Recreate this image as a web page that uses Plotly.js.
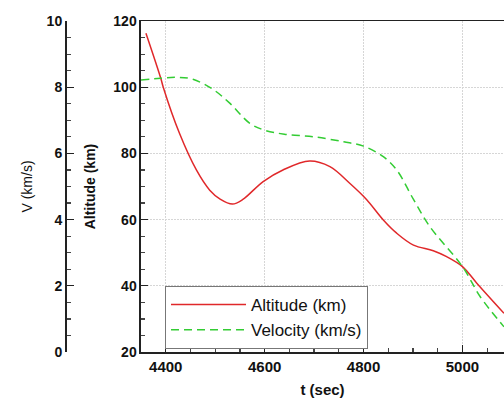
<!DOCTYPE html>
<html>
<head>
<meta charset="utf-8">
<script src="https://cdn.plot.ly/plotly-3.0.1.min.js"></script>
<style>
html,body{margin:0;padding:0;background:#fff;}
#chart{width:504px;height:398px;}
</style>
</head>
<body>
<div id="chart"></div>
<script>
// Time (sec) and altitude (km)
var altTime = [4360, 4390, 4395, 4428, 4462, 4489, 4510, 4535, 4556, 4597, 4637, 4691, 4732, 4772, 4806, 4840, 4867, 4901, 4941, 4968, 5000, 5029, 5084];
var altitude = [116.3, 102.7, 100.0, 86.0, 75.0, 68.9, 66.2, 64.7, 66.1, 71.5, 75.0, 77.7, 76.0, 71.0, 66.1, 59.9, 55.9, 52.3, 50.6, 48.8, 45.8, 40.8, 31.7];
// Time (sec) and velocity (km/s)
var velTime = [4350, 4390, 4422, 4455, 4496, 4530, 4570, 4600, 4640, 4700, 4760, 4800, 4840, 4867, 4901, 4934, 5000, 5036, 5084];
var velocity = [8.22, 8.27, 8.30, 8.24, 7.93, 7.51, 6.91, 6.70, 6.58, 6.50, 6.35, 6.22, 5.90, 5.50, 4.61, 3.79, 2.58, 1.67, 0.76];

var altTicks = [20, 40, 60, 80, 100, 120];
var velTicks = [0, 2, 4, 6, 8, 10];
var timeTicks = [4400, 4600, 4800, 5000];

var FONT = 'Liberation Sans, Arial, Helvetica, sans-serif';

var traces = [
  {x: altTime, y: altitude, name: 'Altitude (km)', type: 'scatter', mode: 'lines',
   line: {color: '#e0282a', width: 1.5, shape: 'spline', smoothing: 1.0}, yaxis: 'y'},
  {x: velTime, y: velocity, name: 'Velocity (km/s)', type: 'scatter', mode: 'lines',
   line: {color: '#33cc33', width: 1.5, dash: '8px,5px', shape: 'spline', smoothing: 1.0}, yaxis: 'y2'}
];

var layout = {
  width: 504, height: 398,
  margin: {l: 65, r: 0, t: 21, b: 46, pad: 0},
  paper_bgcolor: '#fff', plot_bgcolor: '#fff',
  font: {family: FONT, color: '#111', size: 14},
  showlegend: true,
  legend: {x: 0.2278, y: 0.1994, xanchor: 'left', yanchor: 'top',
           bgcolor: '#fff', bordercolor: '#777', borderwidth: 1,
           font: {family: FONT, size: 17, color: '#111'}, itemwidth: 75,
           tracegroupgap: 0},
  xaxis: {
    domain: [0.1731, 1], range: [4350, 5084],
    tickvals: timeTicks, ticktext: timeTicks.map(String),
    ticks: 'inside', ticklen: 7, tickwidth: 1.2, tickcolor: '#222',
    minor: {ticks: 'inside', dtick: 50, tick0: 4400, ticklen: 4, tickcolor: '#444', showgrid: false},
    showline: true, linecolor: '#222', linewidth: 1.5, mirror: true,
    showgrid: true, gridcolor: '#d6d6d6', griddash: '2px,1px', gridwidth: 1,
    zeroline: false,
    tickfont: {family: FONT, size: 15, color: '#111', weight: 'bold'},
    title: {text: 't (sec)', font: {family: FONT, size: 15, color: '#111', weight: 'bold'}, standoff: 12}
  },
  yaxis: {
    range: [20, 120], tickvals: altTicks, ticktext: altTicks.map(String),
    anchor: 'x',
    ticks: 'inside', ticklen: 7, tickwidth: 1.2, tickcolor: '#222',
    minor: {ticks: 'inside', dtick: 5, tick0: 20, ticklen: 4, tickcolor: '#444', showgrid: false},
    showline: true, linecolor: '#222', linewidth: 1.5,
    showgrid: true, gridcolor: '#d6d6d6', griddash: '2px,1px', gridwidth: 1,
    zeroline: false,
    tickfont: {family: FONT, size: 14, color: '#111', weight: 'bold'},
    title: {text: 'Altitude (km)', font: {family: FONT, size: 14, color: '#111', weight: 'bold'}, standoff: 14}
  },
  yaxis2: {
    range: [0, 10], tickvals: velTicks, ticktext: velTicks.map(String),
    overlaying: 'y', side: 'left', anchor: 'free', position: 0,
    ticks: 'inside', ticklen: 7, tickwidth: 1.2, tickcolor: '#222',
    minor: {ticks: 'inside', dtick: 0.5, tick0: 0, ticklen: 4, tickcolor: '#444', showgrid: false},
    showline: true, linecolor: '#222', linewidth: 1.5,
    showgrid: false, zeroline: false,
    tickfont: {family: FONT, size: 14, color: '#111', weight: 'bold'},
    title: {text: 'V (km/s)', font: {family: FONT, size: 14, color: '#111'}, standoff: 9}
  }
};

Plotly.newPlot('chart', traces, layout, {staticPlot: true, displayModeBar: false});
</script>
</body>
</html>
